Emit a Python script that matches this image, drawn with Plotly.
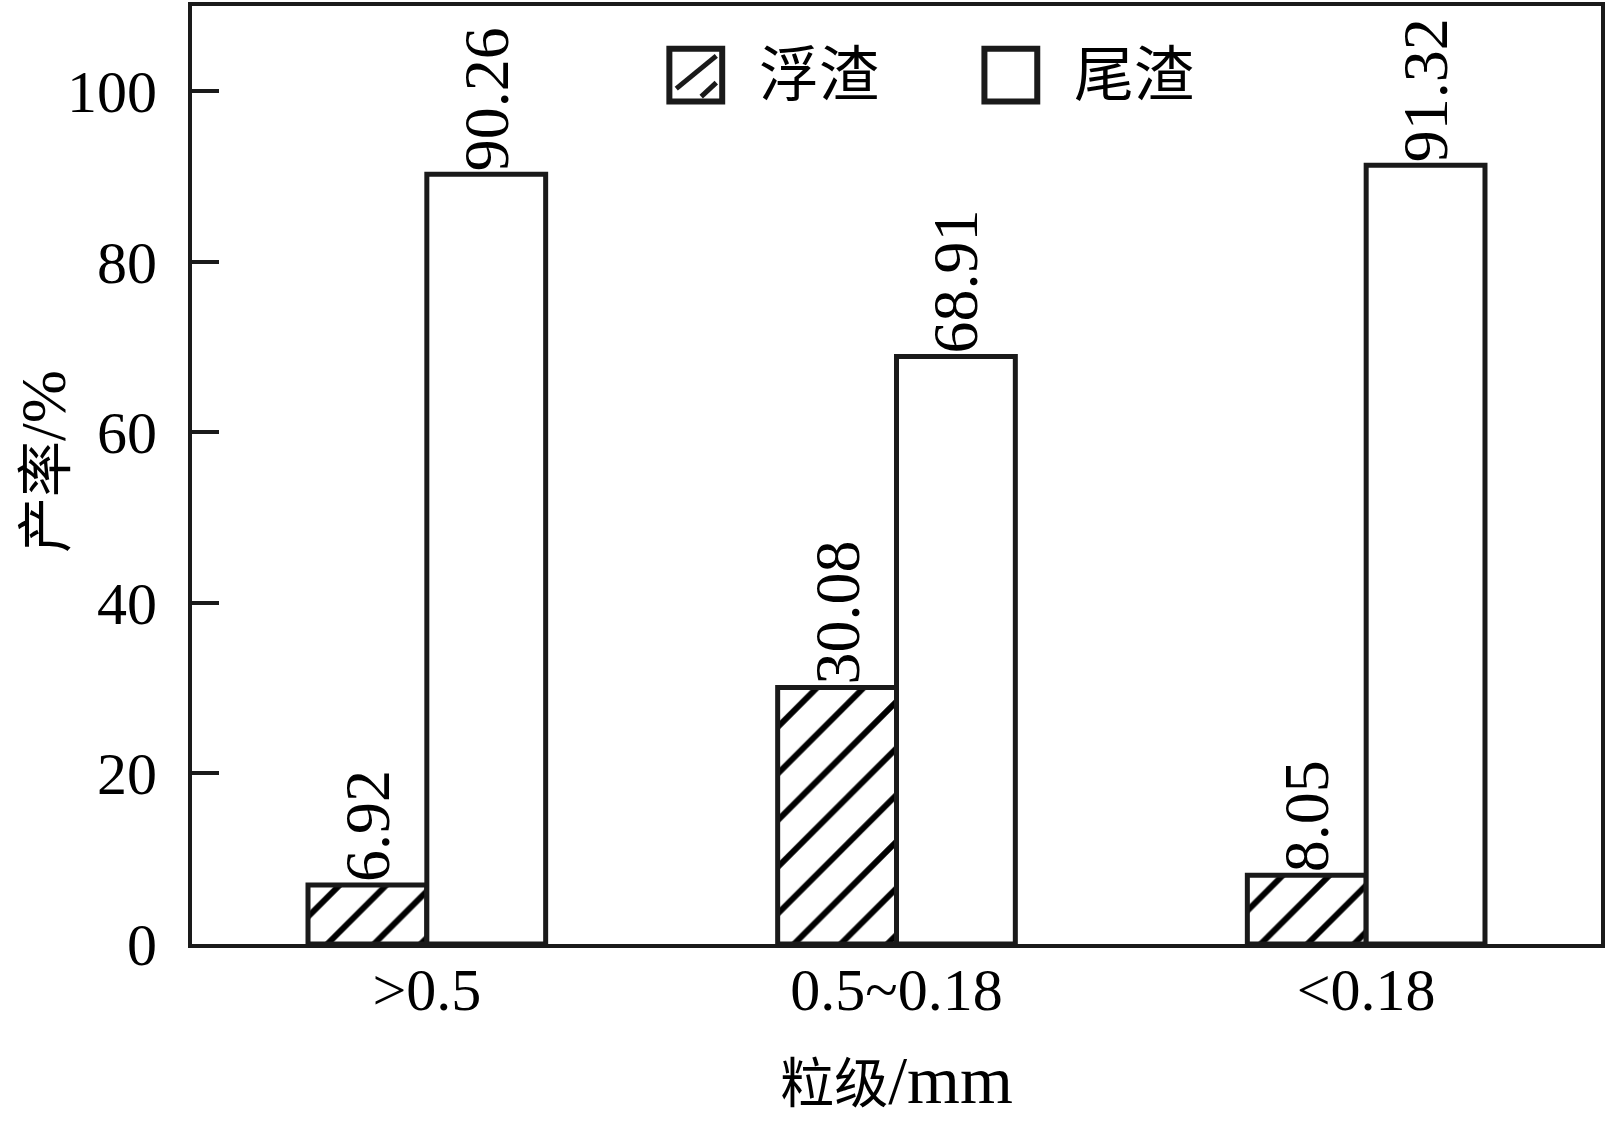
import plotly.graph_objects as go

# 粒级 categories and yields (%)
categorias = [">0.5", "0.5~0.18", "<0.18"]
fuzha = [6.92, 30.08, 8.05]     # 浮渣
weizha = [90.26, 68.91, 91.32]  # 尾渣
nomes = ["浮渣", "尾渣"]
y_ticks = [0, 20, 40, 60, 80, 100]

FONTE = "Liberation Serif, Times New Roman, Noto Sans CJK SC, serif"
PRETO = "#1a1a1a"

fig = go.Figure()

fig.add_trace(
    go.Bar(
        x=categorias,
        y=fuzha,
        name=nomes[0],
        text=[f"{v:.2f}" for v in fuzha],
        textposition="outside",
        textangle=-90,
        constraintext="none",
        textfont=dict(size=64, color="black", family=FONTE),
        cliponaxis=False,
        marker=dict(
            color="white",
            pattern=dict(shape="/", size=33, solidity=0.18, fgcolor="black",
                         bgcolor="white", fgopacity=1),
            line=dict(color=PRETO, width=5),
        ),
    )
)

fig.add_trace(
    go.Bar(
        x=categorias,
        y=weizha,
        name=nomes[1],
        text=[f"{v:.2f}" for v in weizha],
        textposition="outside",
        textangle=-90,
        constraintext="none",
        textfont=dict(size=64, color="black", family=FONTE),
        cliponaxis=False,
        marker=dict(color="white", line=dict(color=PRETO, width=5)),
    )
)

# legenda desenhada à mão (caixas grandes como no original)
shapes = [
    dict(type="rect", xref="paper", yref="paper", x0=0.3388, x1=0.3763, y0=0.8981, y1=0.9544,
         line=dict(color=PRETO, width=6), fillcolor="white"),
    dict(type="line", xref="paper", yref="paper", x0=0.3437, x1=0.3721, y0=0.9119, y1=0.9469,
         line=dict(color=PRETO, width=5)),
    dict(type="line", xref="paper", yref="paper", x0=0.3614, x1=0.3721, y0=0.9034, y1=0.9183,
         line=dict(color=PRETO, width=5)),
    dict(type="rect", xref="paper", yref="paper", x0=0.5624, x1=0.5999, y0=0.8981, y1=0.9544,
         line=dict(color=PRETO, width=6), fillcolor="white"),
]
annotations = [
    dict(text=nomes[0], xref="paper", yref="paper", x=0.4010, y=0.9257, xanchor="left",
         yanchor="middle", showarrow=False, font=dict(size=60, color="black", family=FONTE)),
    dict(text=nomes[1], xref="paper", yref="paper", x=0.6245, y=0.9257, xanchor="left",
         yanchor="middle", showarrow=False, font=dict(size=60, color="black", family=FONTE)),
    # título do eixo y
    dict(text="产率<span style='font-size:64px'>/%</span>", xref="paper", yref="paper",
         x=-0.1049, y=0.514, xanchor="center", yanchor="middle", textangle=-90,
         showarrow=False, font=dict(size=56, color="black", family=FONTE)),
]

fig.update_layout(
    width=1607,
    height=1125,
    margin=dict(l=192, r=4, t=2, b=181),
    paper_bgcolor="white",
    plot_bgcolor="white",
    barmode="group",
    bargap=0.494,
    bargroupgap=0,
    showlegend=False,
    font=dict(family=FONTE, color="black"),
    shapes=shapes,
    annotations=annotations,
    xaxis=dict(
        showline=True,
        linecolor=PRETO,
        linewidth=4,
        mirror=True,
        ticks="",
        showgrid=False,
        tickfont=dict(size=60),
        ticklabelstandoff=-10,
        title=dict(text="粒级<span style='font-size:68px'>/mm</span>",
                   font=dict(size=54), standoff=44),
    ),
    yaxis=dict(
        range=[0, 110],
        tickvals=y_ticks,
        showline=True,
        linecolor=PRETO,
        linewidth=4,
        mirror=True,
        ticks="inside",
        ticklen=27,
        tickwidth=4,
        tickcolor=PRETO,
        showgrid=False,
        zeroline=False,
        tickfont=dict(size=60),
        ticklabelstandoff=19,
    ),
)

fig.write_html(
    "out.html",
    config={"displayModeBar": False},
    post_script="document.body.style.margin='0';",
)
